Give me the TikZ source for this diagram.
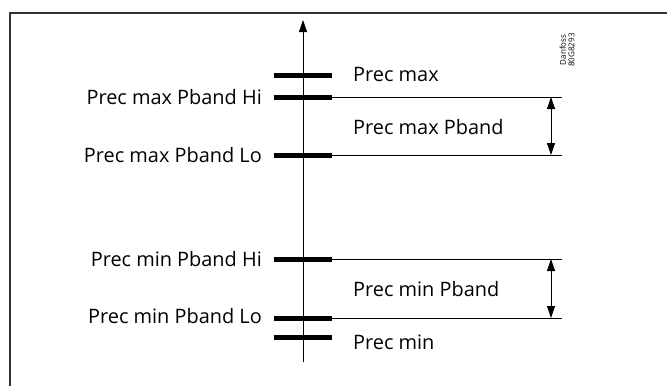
\documentclass[tikz,border=0pt]{standalone}
\usepackage{fontspec}
\setmainfont{Open Sans}
\usetikzlibrary{arrows.meta}
\begin{document}
\begin{tikzpicture}[x=1pt,y=-1pt,
  bar/.style={line width=5pt},
  thin/.style={line width=0.8pt},
  lbl/.style={font=\fontsize{19.9}{21}\selectfont, inner sep=0pt},
  tip/.style={-{Triangle[length=12pt,width=8pt]}},
  dtip/.style={{Triangle[length=12pt,width=8pt]}-{Triangle[length=12pt,width=8pt]}}]
\useasboundingbox (0,0) rectangle (667,386);
\draw[line width=1.5pt,draw=black!80] (10,386) -- (10,13) -- (667,13);
% axis
\coordinate (ab) at (303,362);
\coordinate (at) at (303,20);
\draw[thin,tip] (ab) -- (at);
% bars
\foreach \n/\y in {pmax/75, mhi/97, mlo/155, nhi/259, nlo/318, pmin/337}{
  \coordinate (\n L) at (274,\y);
  \coordinate (\n R) at (332,\y);
  \draw[bar] (\n L) -- (\n R);
}
% extension lines
\foreach \n/\y in {mhi/97, mlo/155, nhi/259, nlo/318}{
  \coordinate (\n E) at (562,\y);
  \coordinate (\n A) at (551,\y);
  \draw[thin] (\n R) -- (\n E);
}
\draw[thin,dtip] (mhiA) -- (mloA);
\draw[thin,dtip] (nhiA) -- (nloA);
% left labels
\node[lbl,anchor=east] (l1) at (262,97) {Prec max Pband Hi};
\node[lbl,anchor=east] (l2) at (262,155) {Prec max Pband Lo};
\node[lbl,anchor=east] (l3) at (262,259) {Prec min Pband Hi};
\node[lbl,anchor=east] (l4) at (262,316) {Prec min Pband Lo};
% right labels
\node[lbl,anchor=west] (r1) at (353,74) {Prec max};
\node[lbl,anchor=west] (r2) at (353,127) {Prec max Pband};
\node[lbl,anchor=west] (r3) at (353,289) {Prec min Pband};
\node[lbl,anchor=west] (r4) at (353,342) {Prec min};
% id
\node[rotate=90,font=\fontsize{8}{8.5}\selectfont,align=center,inner sep=0pt] (id) at (567,50) {Danfoss\\80G8293};
\end{tikzpicture}
\end{document}
